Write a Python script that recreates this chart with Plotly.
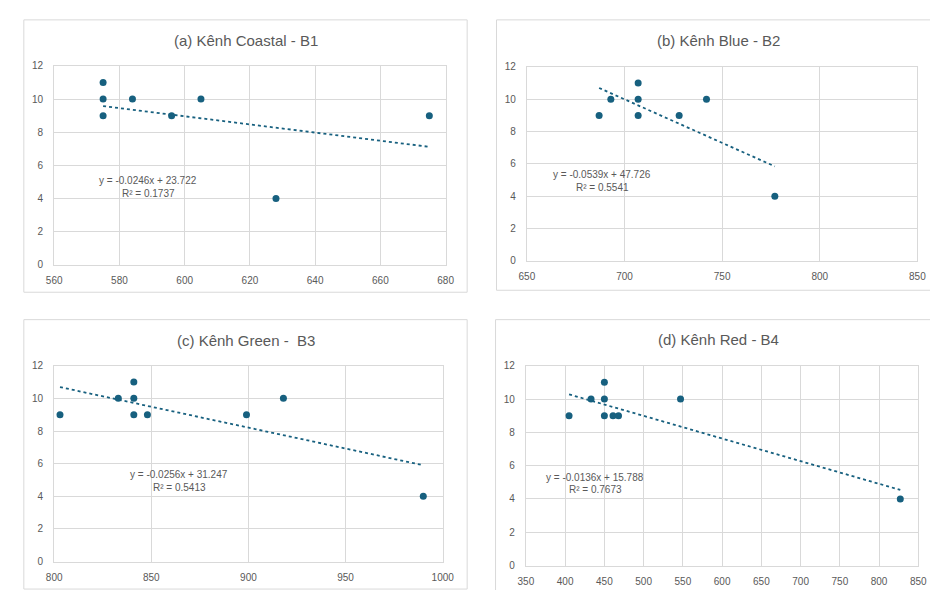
import plotly.graph_objects as go

W, H = 938, 590

# ---- data ----
titles = ["(a) Kênh Coastal - B1", "(b) Kênh Blue - B2", "(c) Kênh Green -  B3", "(d) Kênh Red - B4"]

b1_x = [575, 575, 575, 584, 596, 605, 628, 675]
b1_y = [11, 10, 9, 10, 9, 10, 4, 9]
b2_x = [687, 693, 707, 707, 707, 728, 742, 777]
b2_y = [9, 10, 11, 10, 9, 9, 10, 4]
b3_x = [803, 833, 841, 841, 841, 848, 899, 918, 990]
b3_y = [9, 10, 11, 10, 9, 9, 9, 10, 4]
b4_x = [405, 433, 450, 450, 450, 461, 468, 547, 827]
b4_y = [9, 10, 11, 10, 9, 9, 9, 10, 4]

slopes = [-0.0246, -0.0539, -0.0256, -0.0136]
intercepts = [23.722, 47.726, 31.247, 15.788]
eq_text = ["y = -0.0246x + 23.722", "y = -0.0539x + 47.726", "y = -0.0256x + 31.247", "y = -0.0136x + 15.788"]
r2_text = ["R² = 0.1737", "R² = 0.5541", "R² = 0.5413", "R² = 0.7673"]

x_ranges = [[560, 680], [650, 850], [800, 1000], [350, 850]]
x_dticks = [20, 50, 50, 50]
y_range = [0, 12]
y_dtick = 2

# ---- layout geometry (pixels) ----
plot_boxes = [(39, 439, 53, 256), (522, 921, 54, 252), (39, 436, 359, 559), (521, 922, 359, 563)]
panel_boxes = [(8, 461, 6, 284), (491, 945, 6, 282), (8, 461, 312, 587), (490, 945, 312, 600)]
title_pos = [(235, 27), (718, 27), (235, 333), (718, 332)]
eq_px = [(135, 170, 183), (599, 164, 177), (167, 470, 483), (592, 473, 485)]

COLOR = "#17607f"
GRID = "#d9d9d9"
TXT = "#595959"
FONT = "Liberation Sans, Arial, sans-serif"

xs = [b1_x, b2_x, b3_x, b4_x]
ys = [b1_y, b2_y, b3_y, b4_y]

fig = go.Figure()
layout = dict(
    width=W, height=H, margin=dict(l=0, r=0, t=0, b=0),
    paper_bgcolor="white", plot_bgcolor="white", showlegend=False,
    font=dict(family=FONT, color=TXT, size=10),
)
shapes = []
annotations = []

for i in range(4):
    sfx = "" if i == 0 else str(i + 1)
    xa, ya = "x" + sfx, "y" + sfx
    fig.add_trace(go.Scatter(
        x=xs[i], y=ys[i], mode="markers", xaxis=xa, yaxis=ya,
        marker=dict(color=COLOR, size=7), hoverinfo="x+y"))
    xmin, xmax = min(xs[i]), max(xs[i])
    fig.add_trace(go.Scatter(
        x=[xmin, xmax],
        y=[slopes[i] * xmin + intercepts[i], slopes[i] * xmax + intercepts[i]],
        mode="lines", xaxis=xa, yaxis=ya,
        line=dict(color=COLOR, width=1.8, dash="dot"), hoverinfo="skip"))

    x0, x1, y0, y1 = plot_boxes[i]
    layout["xaxis" + sfx] = dict(
        domain=[x0 / W, x1 / W], anchor=ya, range=x_ranges[i], dtick=x_dticks[i],
        showgrid=True, gridcolor=GRID, gridwidth=1, zeroline=False,
        showline=True, linecolor=GRID, linewidth=1, mirror=True,
        ticks="", ticklabelstandoff=6, tickfont=dict(size=10, color=TXT, family=FONT),
        fixedrange=True)
    layout["yaxis" + sfx] = dict(
        domain=[1 - y1 / H, 1 - y0 / H], anchor=xa, range=y_range, dtick=y_dtick,
        showgrid=True, gridcolor=GRID, gridwidth=1, zeroline=False,
        showline=True, linecolor=GRID, linewidth=1, mirror=True,
        ticks="", ticklabelstandoff=8, tickfont=dict(size=10, color=TXT, family=FONT),
        fixedrange=True)

    px0, px1, py0, py1 = panel_boxes[i]
    shapes.append(dict(type="rect", xref="paper", yref="paper",
                       x0=px0 / W, x1=px1 / W, y0=1 - py1 / H, y1=1 - py0 / H,
                       line=dict(color="#d9d9d9", width=1), fillcolor="rgba(0,0,0,0)",
                       layer="below"))

    tx, ty = title_pos[i]
    annotations.append(dict(text=titles[i], xref="paper", yref="paper",
                            x=tx / W, y=1 - ty / H, xanchor="center", yanchor="middle",
                            showarrow=False, font=dict(size=15, color=TXT, family=FONT)))

    ex, ey1, ey2 = eq_px[i]
    annotations.append(dict(text=eq_text[i], xref="paper", yref="paper",
                            x=ex / W, y=1 - ey1 / H, xanchor="center", yanchor="middle",
                            showarrow=False, font=dict(size=10, color=TXT, family=FONT)))
    annotations.append(dict(text=r2_text[i], xref="paper", yref="paper",
                            x=ex / W, y=1 - ey2 / H, xanchor="center", yanchor="middle",
                            showarrow=False, font=dict(size=10, color=TXT, family=FONT)))

layout["shapes"] = shapes
layout["annotations"] = annotations
fig.update_layout(**layout)
fig.write_html("out.html")
